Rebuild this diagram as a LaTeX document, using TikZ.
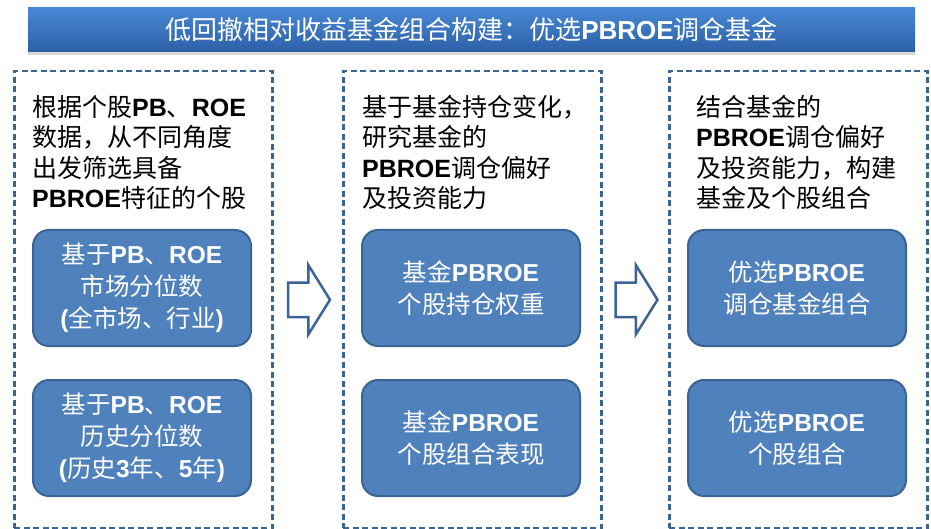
\documentclass[tikz,border=0pt]{standalone}
\usepackage{fontspec}
\setmainfont{Noto Sans CJK SC}
\newfontfamily\arialfont{Liberation Sans}
\newcommand{\ltn}[1]{{\arialfont\bfseries #1}}
\usetikzlibrary{shapes.arrows,shadows,calc}
\definecolor{barTop}{RGB}{72,136,212}
\definecolor{barBot}{RGB}{44,96,166}
\definecolor{boxBlue}{RGB}{79,129,189}
\definecolor{edgeBlue}{RGB}{59,99,148}
\tikzset{
	titlebar/.style={rectangle, top color=barTop, bottom color=barBot, text=white, minimum width=887pt, minimum height=44pt, inner sep=0pt, font=\fontsize{26}{30}\selectfont, drop shadow={shadow xshift=0pt, shadow yshift=-3pt, opacity=0.3}},
	panel/.style={draw=edgeBlue, line width=2.5pt, dash pattern=on 6pt off 3.5pt, minimum width=258pt, minimum height=457pt, anchor=north west, inner sep=0pt},
	paneltext/.style={anchor=north west, align=left, inner sep=0pt, font=\fontsize{25}{30.5}\selectfont},
	blockbox/.style={draw=edgeBlue, line width=2pt, fill=boxBlue, rounded corners=16pt, text=white, minimum width=218pt, minimum height=116pt, align=center, font=\fontsize{24.5}{32}\selectfont},
	flowarrow/.style={single arrow, draw=edgeBlue, fill=white, line width=2.5pt, minimum height=42pt, single arrow head extend=17.5pt, single arrow tip angle=116, inner xsep=0pt, inner ysep=16pt, anchor=tail}
}
\begin{document}
\begin{tikzpicture}[x=1pt, y=-1pt]
			\useasboundingbox (0,0) rectangle (931,529);
			\node[titlebar] (title) at (471.5,30) {低回撤相对收益基金组合构建：优选\ltn{PBROE}调仓基金};
			% three stages
			\node[panel] (p1) at (13,70) {};
			\node[panel] (p2) at (342,70) {};
			\node[panel] (p3) at (668,70) {};
			\node[paneltext] (t1) at (32,95) {根据个股\ltn{PB}、\ltn{ROE}\\数据，从不同角度\\出发筛选具备\\\ltn{PBROE}特征的个股};
			\node[paneltext] (t2) at (362,95) {基于基金持仓变化，\\研究基金的\\\ltn{PBROE}调仓偏好\\及投资能力};
			\node[paneltext] (t3) at (696,95) {结合基金的\\\ltn{PBROE}调仓偏好\\及投资能力，构建\\基金及个股组合};
			\node[blockbox] (mkt) at (142,288) {基于\ltn{PB}、\ltn{ROE}\\市场分位数\\\ltn{(}全市场、行业\ltn{)}};
			\node[blockbox] (hist) at (142,438) {基于\ltn{PB}、\ltn{ROE}\\历史分位数\\\ltn{(}历史\ltn{3}年、\ltn{5}年\ltn{)}};
			\node[blockbox] (hold) at (471,288) {基金\ltn{PBROE}\\个股持仓权重};
			\node[blockbox] (perf) at (471,438) {基金\ltn{PBROE}\\个股组合表现};
			\node[blockbox] (fundport) at (797,288) {优选\ltn{PBROE}\\调仓基金组合};
			\node[blockbox] (stockport) at (797,438) {优选\ltn{PBROE}\\个股组合};
			% block arrows between stages
			\node[flowarrow] (a1) at ($(p1.east)!0.5!(p2.west)+(-21,0)$) {};
			\node[flowarrow] (a2) at ($(p2.east)!0.5!(p3.west)+(-21,0)$) {};
		\end{tikzpicture}
\end{document}
